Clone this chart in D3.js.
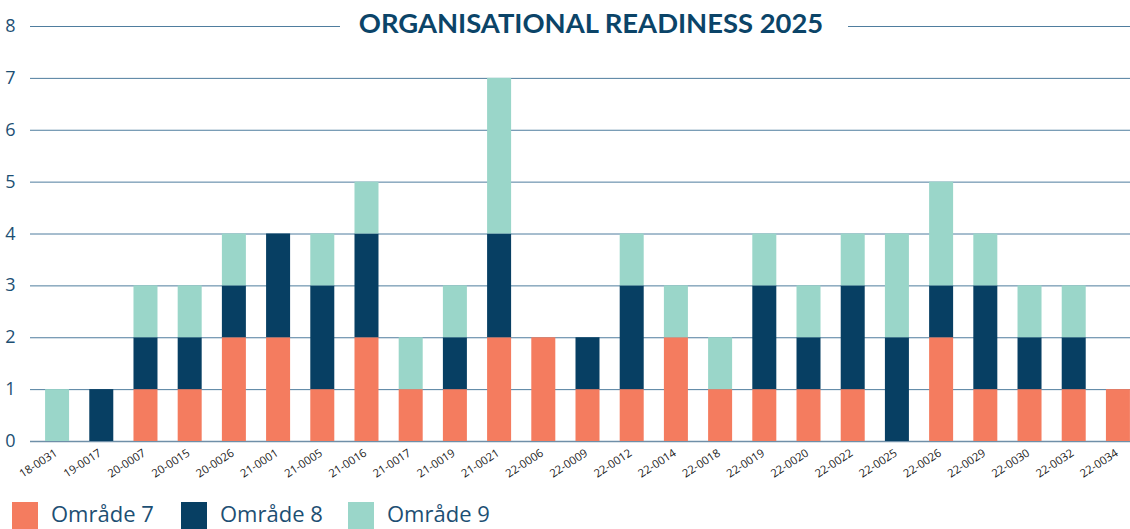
<!DOCTYPE html>
<html>
<head>
<meta charset="utf-8">
<script src="https://cdn.jsdelivr.net/npm/d3@7"></script>
<style>
  body { margin: 0; background: #fff; }
  svg { display: block; }
</style>
</head>
<body>
<svg width="1130" height="529"></svg>
<script>
var categories = ['18-0031','19-0017','20-0007','20-0015','20-0026','21-0001','21-0005','21-0016','21-0017','21-0019','21-0021','22-0006','22-0009','22-0012','22-0014','22-0018','22-0019','22-0020','22-0022','22-0025','22-0026','22-0029','22-0030','22-0032','22-0034'];
var omrade7 = [0,0,1,1,2,2,1,2,1,1,2,2,1,1,2,1,1,1,1,0,2,1,1,1,1];
var omrade8 = [0,1,1,1,1,2,2,2,0,1,2,0,1,2,0,0,2,1,2,2,1,2,1,1,0];
var omrade9 = [1,0,1,1,1,0,1,1,1,1,3,0,0,1,1,1,1,1,1,2,2,1,1,1,0];
var seriesNames = ['Område 7','Område 8','Område 9'];
var colors = ['#f47c5f','#073f63','#9ad6c9'];
var yTicks = [0,1,2,3,4,5,6,7,8];

var rows = categories.map(function(c, i){
    return {cat: c, 'Område 7': omrade7[i], 'Område 8': omrade8[i], 'Område 9': omrade9[i]};
});

var svg = d3.select('svg');

var scaleX = d3.scaleBand().domain(categories).range([35, 1140]).paddingInner(0.457).paddingOuter(0.228);
var scaleY = d3.scaleLinear().domain([0,8]).range([441, 26]);

// gridlines
svg.append('g')
    .selectAll('line')
    .data(yTicks)
    .enter()
    .append('line')
    .attr('x1', 30)
    .attr('x2', 1130)
    .attr('y1', function(d){ return scaleY(d) + 0.5 })
    .attr('y2', function(d){ return scaleY(d) + 0.5 })
    .attr('stroke', function(d){ return d === 0 ? '#6f8fa8' : '#4f7d9e' })
    .attr('stroke-width', function(d){ return d === 0 ? 1.5 : 1 });

// y labels
svg.append('g')
    .selectAll('text')
    .data(yTicks)
    .enter()
    .append('text')
    .attr('x', 10.5)
    .attr('y', function(d){ return scaleY(d) + 6 })
    .attr('text-anchor', 'middle')
    .attr('font-family', 'Open Sans')
    .attr('font-size', 18)
    .attr('fill', '#1d4f73')
    .text(function(d){ return d });

// bars
var stacked = d3.stack().keys(seriesNames)(rows);

svg.append('g')
    .selectAll('g')
    .data(stacked)
    .enter()
    .append('g')
    .attr('fill', function(d, i){ return colors[i] })
    .selectAll('rect')
    .data(function(d){ return d })
    .enter()
    .append('rect')
    .attr('x', function(d){ return scaleX(d.data.cat) })
    .attr('width', scaleX.bandwidth())
    .attr('y', function(d){ return scaleY(d[1]) })
    .attr('height', function(d){ return scaleY(d[0]) - scaleY(d[1]) });

// x labels
svg.append('g')
    .selectAll('text')
    .data(categories)
    .enter()
    .append('text')
    .attr('text-anchor', 'end')
    .attr('font-family', 'Open Sans')
    .attr('font-size', 11.3)
    .attr('fill', '#222')
    .attr('transform', function(d){
        return 'translate(' + (scaleX(d) + scaleX.bandwidth() / 2 + 1) + ',455) rotate(-33)';
    })
    .text(function(d){ return d });

// title with white background over the top gridline
svg.append('rect')
    .attr('x', 340)
    .attr('y', 8)
    .attr('width', 508)
    .attr('height', 36)
    .attr('fill', '#fff');

svg.append('text')
    .attr('x', 591)
    .attr('y', 33)
    .attr('text-anchor', 'middle')
    .attr('font-family', 'Lato')
    .attr('font-weight', 'bold')
    .attr('font-size', 27.4)
    .attr('fill', '#0b4468')
    .text('ORGANISATIONAL READINESS 2025');

// legend
var legendX = [12, 181, 348];
var legend = svg.append('g')
    .selectAll('g')
    .data(seriesNames)
    .enter()
    .append('g')
    .attr('transform', function(d, i){ return 'translate(' + legendX[i] + ',502)' });

legend.append('rect')
    .attr('width', 26)
    .attr('height', 27)
    .attr('fill', function(d, i){ return colors[i] });

legend.append('text')
    .attr('x', 39)
    .attr('y', 20)
    .attr('font-family', 'Open Sans')
    .attr('font-size', 22)
    .attr('fill', '#1d4f73')
    .text(function(d){ return d });
</script>
</body>
</html>
